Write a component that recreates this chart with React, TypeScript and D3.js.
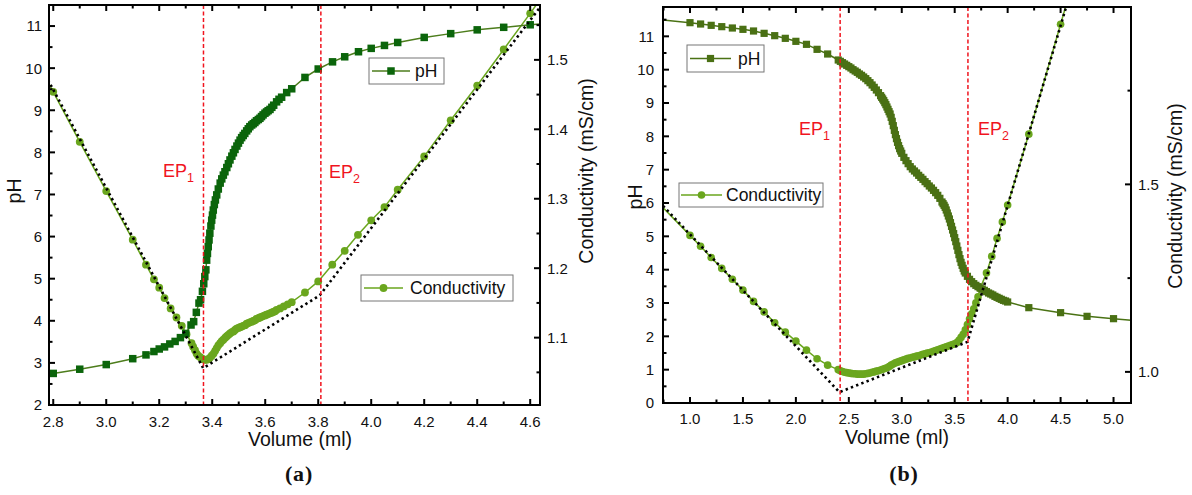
import React from 'react';
import * as d3 from 'd3';

type P = [number, number];

// ---------- Panel (a) data ----------
const volTicksA = [2.8, 3.0, 3.2, 3.4, 3.6, 3.8, 4.0, 4.2, 4.4, 4.6];
const phTicksA = [2, 3, 4, 5, 6, 7, 8, 9, 10, 11];
const condTicksA = [1.1, 1.2, 1.3, 1.4, 1.5];

const phA: P[] = [
  [2.70, 2.65], [2.80, 2.75], [2.90, 2.85], [3.00, 2.96], [3.10, 3.10], [3.15, 3.19], [3.18, 3.27],
  [3.20, 3.33], [3.22, 3.38], [3.24, 3.45], [3.26, 3.51], [3.28, 3.60], [3.30, 3.70], [3.32, 3.90],
  [3.33, 3.98], [3.34, 4.20], [3.35, 4.42], [3.356, 4.50], [3.363, 4.70], [3.368, 4.88], [3.372, 5.05],
  [3.376, 5.21], [3.379, 5.44], [3.382, 5.60], [3.385, 5.76], [3.388, 5.92], [3.391, 6.08], [3.395, 6.25],
  [3.398, 6.39], [3.401, 6.51], [3.404, 6.63], [3.408, 6.76], [3.412, 6.87], [3.417, 6.99], [3.423, 7.13],
  [3.430, 7.27], [3.436, 7.37], [3.442, 7.46], [3.448, 7.54], [3.455, 7.64], [3.461, 7.73], [3.467, 7.82],
  [3.474, 7.91], [3.480, 7.99], [3.486, 8.07], [3.493, 8.15], [3.499, 8.22], [3.505, 8.29], [3.511, 8.35],
  [3.517, 8.40], [3.523, 8.45], [3.530, 8.51], [3.536, 8.56], [3.542, 8.61], [3.549, 8.65], [3.555, 8.68],
  [3.561, 8.71], [3.567, 8.75], [3.574, 8.78], [3.580, 8.81], [3.586, 8.85], [3.592, 8.89], [3.599, 8.93],
  [3.605, 8.96], [3.611, 8.99], [3.618, 9.02], [3.625, 9.07], [3.632, 9.12], [3.643, 9.20], [3.652, 9.26],
  [3.662, 9.31], [3.681, 9.42], [3.700, 9.51], [3.750, 9.78], [3.800, 9.98], [3.854, 10.15], [3.900, 10.27],
  [3.952, 10.39], [4.00, 10.47], [4.05, 10.54], [4.10, 10.61], [4.20, 10.73], [4.30, 10.82], [4.40, 10.91],
  [4.50, 10.97], [4.60, 11.03], [4.70, 11.08],
];

const condA: P[] = [
  [2.70, 1.525], [2.80, 1.454], [2.90, 1.382], [3.00, 1.311], [3.10, 1.241], [3.15, 1.205], [3.18, 1.184],
  [3.20, 1.172], [3.22, 1.157], [3.243, 1.142], [3.265, 1.129], [3.285, 1.117], [3.303, 1.105],
  [3.322, 1.092], [3.328, 1.087], [3.335, 1.082], [3.341, 1.077], [3.347, 1.074], [3.354, 1.072],
  [3.360, 1.070], [3.366, 1.069], [3.372, 1.068], [3.379, 1.068], [3.385, 1.069], [3.391, 1.071],
  [3.398, 1.074], [3.405, 1.077], [3.411, 1.081], [3.417, 1.085], [3.423, 1.089], [3.430, 1.092],
  [3.436, 1.095], [3.442, 1.097], [3.449, 1.100], [3.455, 1.102], [3.461, 1.104], [3.467, 1.106],
  [3.474, 1.108], [3.480, 1.109], [3.486, 1.111], [3.492, 1.113], [3.499, 1.114], [3.505, 1.115],
  [3.511, 1.116], [3.517, 1.117], [3.524, 1.118], [3.530, 1.120], [3.536, 1.121], [3.542, 1.122],
  [3.549, 1.123], [3.555, 1.124], [3.561, 1.125], [3.567, 1.127], [3.574, 1.128], [3.580, 1.129],
  [3.586, 1.130], [3.592, 1.131], [3.599, 1.132], [3.605, 1.133], [3.611, 1.134], [3.618, 1.135],
  [3.624, 1.136], [3.630, 1.137], [3.637, 1.138], [3.643, 1.140], [3.656, 1.142], [3.670, 1.145],
  [3.685, 1.148], [3.700, 1.151], [3.75, 1.165], [3.80, 1.181], [3.853, 1.205], [3.90, 1.225],
  [3.95, 1.248], [4.00, 1.269], [4.05, 1.288], [4.10, 1.313], [4.20, 1.361], [4.30, 1.413],
  [4.40, 1.463], [4.50, 1.515], [4.60, 1.567], [4.70, 1.620],
];

const fitA: P[] = [[2.70, 1.528], [3.366, 1.056], [3.806, 1.161], [4.70, 1.607]];
const epA = [3.367, 3.810];

// ---------- Panel (b) data ----------
const volTicksB = [1.0, 1.5, 2.0, 2.5, 3.0, 3.5, 4.0, 4.5, 5.0];
const phTicksB = [0, 1, 2, 3, 4, 5, 6, 7, 8, 9, 10, 11];
const condTicksB = [1.0, 1.5];

const phB: P[] = [
  [0.60, 11.53], [1.00, 11.41], [1.10, 11.37], [1.20, 11.33], [1.30, 11.29], [1.40, 11.25], [1.50, 11.21],
  [1.60, 11.16], [1.70, 11.09], [1.80, 11.02], [1.90, 10.94], [2.00, 10.85], [2.10, 10.76], [2.20, 10.61],
  [2.30, 10.47], [2.40, 10.29], [2.42, 10.25], [2.44, 10.21], [2.46, 10.17], [2.48, 10.13], [2.50, 10.09],
  [2.52, 10.05], [2.54, 10.00], [2.56, 9.96], [2.58, 9.92], [2.60, 9.87], [2.62, 9.83], [2.64, 9.78],
  [2.66, 9.73], [2.68, 9.67], [2.70, 9.61], [2.72, 9.54], [2.74, 9.47], [2.76, 9.39], [2.78, 9.31],
  [2.80, 9.22], [2.81, 9.17], [2.82, 9.12], [2.83, 9.07], [2.84, 9.01], [2.85, 8.95], [2.86, 8.88],
  [2.87, 8.81], [2.88, 8.74], [2.89, 8.67], [2.90, 8.57], [2.91, 8.45], [2.92, 8.32], [2.93, 8.18],
  [2.94, 8.05], [2.95, 7.93], [2.96, 7.82], [2.97, 7.72], [2.98, 7.63], [2.99, 7.56], [3.00, 7.49],
  [3.02, 7.37], [3.04, 7.27], [3.06, 7.18], [3.08, 7.09], [3.10, 7.02], [3.12, 6.96], [3.14, 6.90],
  [3.16, 6.83], [3.18, 6.77], [3.20, 6.71], [3.22, 6.64], [3.24, 6.58], [3.26, 6.51], [3.28, 6.45],
  [3.30, 6.38], [3.32, 6.31], [3.34, 6.23], [3.36, 6.14], [3.38, 6.03], [3.39, 5.98], [3.40, 5.93],
  [3.41, 5.87], [3.42, 5.79], [3.43, 5.70], [3.44, 5.61], [3.45, 5.52], [3.46, 5.41], [3.47, 5.30],
  [3.48, 5.19], [3.49, 5.08], [3.50, 4.96], [3.51, 4.84], [3.52, 4.71], [3.53, 4.58], [3.54, 4.45],
  [3.55, 4.33], [3.56, 4.22], [3.57, 4.13], [3.58, 4.04], [3.59, 3.96], [3.60, 3.90], [3.62, 3.80],
  [3.64, 3.71], [3.66, 3.64], [3.68, 3.58], [3.70, 3.53], [3.72, 3.49], [3.74, 3.45], [3.76, 3.42],
  [3.78, 3.38], [3.80, 3.34], [3.82, 3.30], [3.84, 3.27], [3.86, 3.24], [3.88, 3.20], [3.90, 3.17],
  [3.92, 3.14], [3.94, 3.11], [3.96, 3.08], [3.98, 3.06], [4.00, 3.03], [4.20, 2.86], [4.50, 2.71],
  [4.75, 2.60], [5.00, 2.53], [5.25, 2.46],
];

const condB: P[] = [
  [0.60, 1.480], [1.00, 1.364], [1.10, 1.335], [1.20, 1.305], [1.30, 1.276], [1.40, 1.247], [1.50, 1.218],
  [1.60, 1.188], [1.70, 1.160], [1.80, 1.131], [1.90, 1.106], [2.00, 1.082], [2.10, 1.058], [2.20, 1.035],
  [2.30, 1.018], [2.40, 1.006], [2.42, 1.003], [2.44, 1.001], [2.46, 0.999], [2.48, 0.998], [2.50, 0.997],
  [2.52, 0.996], [2.54, 0.995], [2.56, 0.995], [2.58, 0.994], [2.60, 0.994], [2.62, 0.994], [2.64, 0.994],
  [2.66, 0.995], [2.68, 0.996], [2.70, 0.997], [2.72, 0.999], [2.74, 1.000], [2.76, 1.002], [2.78, 1.003],
  [2.80, 1.005], [2.82, 1.007], [2.84, 1.009], [2.86, 1.011], [2.88, 1.014], [2.90, 1.018], [2.92, 1.021],
  [2.94, 1.024], [2.96, 1.026], [2.98, 1.028], [3.00, 1.030], [3.02, 1.032], [3.04, 1.034], [3.06, 1.036],
  [3.08, 1.037], [3.10, 1.039], [3.12, 1.040], [3.14, 1.042], [3.16, 1.043], [3.18, 1.045], [3.20, 1.047],
  [3.22, 1.048], [3.24, 1.050], [3.26, 1.051], [3.28, 1.053], [3.30, 1.055], [3.32, 1.057], [3.34, 1.059],
  [3.36, 1.061], [3.38, 1.063], [3.40, 1.065], [3.42, 1.067], [3.44, 1.069], [3.46, 1.071], [3.48, 1.073],
  [3.50, 1.075], [3.52, 1.078], [3.54, 1.084], [3.56, 1.092], [3.58, 1.100], [3.60, 1.112], [3.62, 1.126],
  [3.64, 1.141], [3.66, 1.155], [3.68, 1.168], [3.70, 1.184], [3.72, 1.200], [3.74, 1.222], [3.80, 1.264],
  [3.85, 1.308], [3.90, 1.356], [3.95, 1.400], [4.00, 1.445], [4.20, 1.634], [4.50, 1.927], [4.80, 2.220],
];

const fitB: P[] = [[0.60, 1.486], [2.411, 0.946], [3.621, 1.080], [4.60, 2.019]];
const epB = [2.418, 3.625];

const FONT = "'Liberation Sans', Arial, Helvetica, sans-serif";
const RED = '#f0141e';

type Cfg = {
  id: string;
  left: number; right: number; top: number; bottom: number;
  xDomain: [number, number]; yLDomain: [number, number]; yRDomain: [number, number];
  xTicks: number[]; yLTicks: number[]; yRTicks: number[];
  xFmt: (v: number) => string; yLFmt: (v: number) => string; yRFmt: (v: number) => string;
  ph: P[]; cond: P[]; fit: P[]; ep: number[];
  phColor: string; phFill: string; condColor: string; condFill: string;
  sq: number; cr: number;
  xLabelY: number; yLLabelX: number; yRLabelX: number;
  xTitle: [number, number]; yLTitle: [number, number]; yRTitle: [number, number];
  phLeg: { box: [number, number, number, number]; l0: number; l1: number; y: number; tx: number; ty: number };
  condLeg: { box: [number, number, number, number]; l0: number; l1: number; y: number; tx: number; ty: number };
  epLab: [number, number][];
  tag: string; tagPos: [number, number];
};

function minorTicks(major: number[], dom: [number, number]) {
  const step = major[1] - major[0];
  const lo = Math.min(dom[0], dom[1]);
  const hi = Math.max(dom[0], dom[1]);
  return d3.range(major[0] - step * 1.5, hi + step, step).filter((v) => v > lo + 1e-6 && v < hi - 1e-6);
}

function Panel({ c }: { c: Cfg }) {
  const x = d3.scaleLinear().domain(c.xDomain).range([c.left, c.right]);
  const yL = d3.scaleLinear().domain(c.yLDomain).range([c.bottom, c.top]);
  const yR = d3.scaleLinear().domain(c.yRDomain).range([c.bottom, c.top]);
  const lineL = d3.line<P>().x((d) => x(d[0])).y((d) => yL(d[1]));
  const lineR = d3.line<P>().x((d) => x(d[0])).y((d) => yR(d[1]));
  const xMin = minorTicks(c.xTicks, c.xDomain);
  const yLMin = minorTicks(c.yLTicks, c.yLDomain);
  const yRMin = minorTicks(c.yRTicks, c.yRDomain);
  const MAJ = 6, MIN = 3.5;
  const clip = `clip-${c.id}`;
  const tickStyle = { stroke: '#000', strokeWidth: 2 } as const;
  const s = c.sq;
  return (
    <g>
      <defs>
        <clipPath id={clip}>
          <rect x={c.left} y={c.top} width={c.right - c.left} height={c.bottom - c.top} />
        </clipPath>
      </defs>
      <g clipPath={`url(#${clip})`}>
        <path d={lineR(c.cond) || ''} fill="none" stroke={c.condColor} strokeWidth={1.5} />
        {c.cond.map((d, i) => (
          <circle key={'c' + i} cx={x(d[0])} cy={yR(d[1])} r={c.cr} fill={c.condFill} />
        ))}
        <path d={lineL(c.ph) || ''} fill="none" stroke={c.phColor} strokeWidth={1.5} />
        {c.ph.map((d, i) => (
          <rect key={'p' + i} x={x(d[0]) - s / 2} y={yL(d[1]) - s / 2} width={s} height={s} fill={c.phFill} />
        ))}
        <path d={lineR(c.fit) || ''} fill="none" stroke="#000" strokeWidth={2.6} strokeDasharray="2.4 3.2" />
        {c.ep.map((v, i) => (
          <line key={'e' + i} x1={x(v)} x2={x(v)} y1={c.top} y2={c.bottom} stroke={RED} strokeWidth={1.5} strokeDasharray="4 2.5" />
        ))}
      </g>
      {c.epLab.map((p, i) => (
        <text key={'el' + i} x={p[0]} y={p[1]} fill={RED} fontFamily={FONT} fontSize={18}>
          EP<tspan fontSize={12.5} dy={5}>{i + 1}</tspan>
        </text>
      ))}
      <rect x={c.left} y={c.top} width={c.right - c.left} height={c.bottom - c.top} fill="none" stroke="#000" strokeWidth={2} />
      {c.xTicks.map((v) => (
        <g key={'xt' + v}>
          <line x1={x(v)} x2={x(v)} y1={c.bottom} y2={c.bottom - MAJ} {...tickStyle} />
          <line x1={x(v)} x2={x(v)} y1={c.top} y2={c.top + MAJ} {...tickStyle} />
          <text x={x(v)} y={c.xLabelY} textAnchor="middle" fontFamily={FONT} fontSize={15} fill="#111">{c.xFmt(v)}</text>
        </g>
      ))}
      {xMin.map((v) => (
        <g key={'xm' + v}>
          <line x1={x(v)} x2={x(v)} y1={c.bottom} y2={c.bottom - MIN} {...tickStyle} />
          <line x1={x(v)} x2={x(v)} y1={c.top} y2={c.top + MIN} {...tickStyle} />
        </g>
      ))}
      {c.yLTicks.map((v) => (
        <g key={'yl' + v}>
          <line x1={c.left} x2={c.left + MAJ} y1={yL(v)} y2={yL(v)} {...tickStyle} />
          <text x={c.yLLabelX} y={yL(v)} dy="0.36em" textAnchor="end" fontFamily={FONT} fontSize={15} fill="#111">{c.yLFmt(v)}</text>
        </g>
      ))}
      {yLMin.map((v) => (
        <line key={'ylm' + v} x1={c.left} x2={c.left + MIN} y1={yL(v)} y2={yL(v)} {...tickStyle} />
      ))}
      {c.yRTicks.map((v) => (
        <g key={'yr' + v}>
          <line x1={c.right} x2={c.right - MAJ} y1={yR(v)} y2={yR(v)} {...tickStyle} />
          <text x={c.yRLabelX} y={yR(v)} dy="0.36em" textAnchor="start" fontFamily={FONT} fontSize={15} fill="#111">{c.yRFmt(v)}</text>
        </g>
      ))}
      {yRMin.map((v) => (
        <line key={'yrm' + v} x1={c.right} x2={c.right - MIN} y1={yR(v)} y2={yR(v)} {...tickStyle} />
      ))}
      <text x={c.xTitle[0]} y={c.xTitle[1]} textAnchor="middle" fontFamily={FONT} fontSize={19.5} fill="#111">Volume (ml)</text>
      <text transform={`translate(${c.yLTitle[0]},${c.yLTitle[1]}) rotate(-90)`} textAnchor="middle" fontFamily={FONT} fontSize={19.5} fill="#111">pH</text>
      <text transform={`translate(${c.yRTitle[0]},${c.yRTitle[1]}) rotate(-90)`} textAnchor="middle" fontFamily={FONT} fontSize={19.5} fill="#111">Conductivity (mS/cm)</text>
      <g>
        <rect x={c.phLeg.box[0]} y={c.phLeg.box[1]} width={c.phLeg.box[2]} height={c.phLeg.box[3]} fill="#fff" stroke="#777" strokeWidth={1} />
        <line x1={c.phLeg.l0} x2={c.phLeg.l1} y1={c.phLeg.y} y2={c.phLeg.y} stroke={c.phColor} strokeWidth={1.5} />
        <rect x={(c.phLeg.l0 + c.phLeg.l1) / 2 - s / 2} y={c.phLeg.y - s / 2} width={s} height={s} fill={c.phFill} />
        <text x={c.phLeg.tx} y={c.phLeg.ty} fontFamily={FONT} fontSize={17.5} fill="#111">pH</text>
      </g>
      <g>
        <rect x={c.condLeg.box[0]} y={c.condLeg.box[1]} width={c.condLeg.box[2]} height={c.condLeg.box[3]} fill="#fff" stroke="#777" strokeWidth={1} />
        <line x1={c.condLeg.l0} x2={c.condLeg.l1} y1={c.condLeg.y} y2={c.condLeg.y} stroke={c.condColor} strokeWidth={1.5} />
        <circle cx={(c.condLeg.l0 + c.condLeg.l1) / 2} cy={c.condLeg.y} r={c.cr} fill={c.condFill} />
        <text x={c.condLeg.tx} y={c.condLeg.ty} fontFamily={FONT} fontSize={17.5} fill="#111">Conductivity</text>
      </g>
      <text x={c.tagPos[0]} y={c.tagPos[1]} textAnchor="middle" fontFamily="'Liberation Serif', 'DejaVu Serif', serif" fontWeight="bold" fontSize={22} letterSpacing={0.8} fill="#111">{c.tag}</text>
    </g>
  );
}

const f1 = d3.format('.1f');
const f0 = d3.format('d');

const cfgA: Cfg = {
  id: 'a', left: 49, right: 540, top: 5, bottom: 405,
  xDomain: [2.784, 4.637], yLDomain: [2, 11.5], yRDomain: [1.003, 1.579],
  xTicks: volTicksA, yLTicks: phTicksA, yRTicks: condTicksA,
  xFmt: f1, yLFmt: f0, yRFmt: f1,
  ph: phA, cond: condA, fit: fitA, ep: epA,
  phColor: '#4d7d1c', phFill: '#0b650b',
  condColor: '#6aa61e', condFill: '#6aa61e',
  sq: 7.5, cr: 3.9,
  xLabelY: 427, yLLabelX: 42, yRLabelX: 547,
  xTitle: [300, 446], yLTitle: [21, 191], yRTitle: [593, 171],
  phLeg: { box: [369, 58, 75, 26], l0: 372, l1: 410, y: 71, tx: 415, ty: 77 },
  condLeg: { box: [361, 275, 152, 26], l0: 364, l1: 403, y: 288, tx: 410, ty: 294 },
  epLab: [[163, 177], [329, 178]],
  tag: '(a)', tagPos: [299, 481],
};

const cfgB: Cfg = {
  id: 'b', left: 663, right: 1131, top: 7, bottom: 403,
  xDomain: [0.745, 5.165], yLDomain: [0, 11.88], yRDomain: [0.917, 1.973],
  xTicks: volTicksB, yLTicks: phTicksB, yRTicks: condTicksB,
  xFmt: f1, yLFmt: f0, yRFmt: f1,
  ph: phB, cond: condB, fit: fitB, ep: epB,
  phColor: '#4a7214', phFill: '#4a7014',
  condColor: '#6aa61e', condFill: '#6aa61e',
  sq: 7.2, cr: 3.8,
  xLabelY: 424, yLLabelX: 654, yRLabelX: 1138,
  xTitle: [897, 444], yLTitle: [642, 197], yRTitle: [1182, 196],
  phLeg: { box: [687, 45, 77, 27], l0: 690, l1: 731, y: 58.5, tx: 738, ty: 65 },
  condLeg: { box: [679, 183, 144, 24], l0: 681, l1: 722, y: 195, tx: 726, ty: 201 },
  epLab: [[799, 135], [978, 135]],
  tag: '(b)', tagPos: [904, 481],
};

export default function App() {
  return (
    <svg width={1192} height={495} viewBox="0 0 1192 495" style={{ position: 'absolute', left: 0, top: 0, background: '#fff' }}>
      <rect x={0} y={0} width={1192} height={495} fill="#fff" />
      <Panel c={cfgA} />
      <Panel c={cfgB} />
    </svg>
  );
}
